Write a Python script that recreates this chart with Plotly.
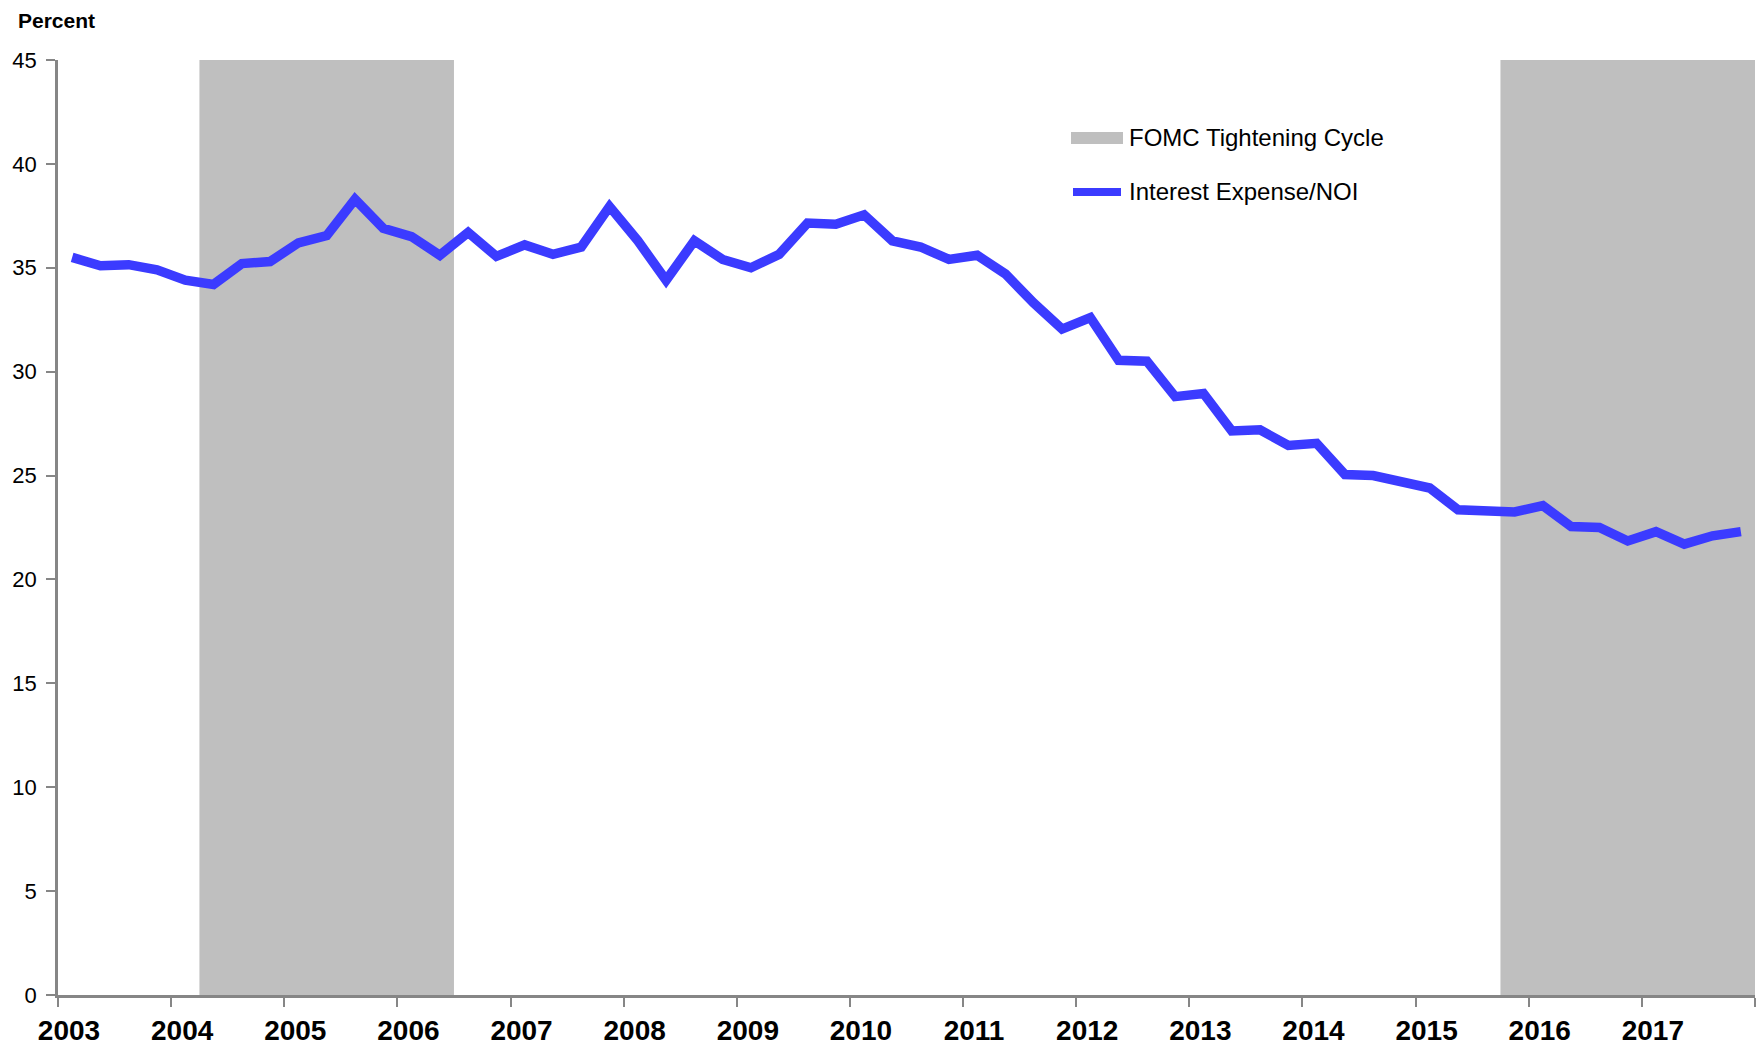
import plotly.graph_objects as go

# ---- data ----
quarters = [f"{y}Q{q}" for y in range(2003, 2018) for q in range(1, 5)]
interest_expense_noi = [
    35.5, 35.1, 35.15, 34.9,
    34.4, 34.2, 35.2, 35.3,
    36.2, 36.55, 38.3, 36.9,
    36.5, 35.6, 36.7, 35.55,
    36.1, 35.65, 36.0, 37.95,
    36.3, 34.4, 36.3, 35.4,
    35.0, 35.65, 37.15, 37.1,
    37.55, 36.3, 36.0, 35.4,
    35.6, 34.7, 33.3, 32.05,
    32.6, 30.55, 30.5, 28.8,
    28.95, 27.15, 27.2, 26.45,
    26.55, 25.05, 25.0, 24.7,
    24.4, 23.35, 23.25, 23.25,
    23.55, 22.55, 22.5, 21.85,
    22.3, 21.7, 22.1, 22.3,
]
tightening_start = [2004.25, 2015.75]
tightening_end = [2006.5, 2018.0]
year_ticks = list(range(2003, 2019))
year_labels = [str(y) for y in range(2003, 2018)] + [""]
y_ticks = list(range(0, 50, 5))

# decimal position at the middle of each quarter
x_pos = [int(q[:4]) + (int(q[-1]) - 0.5) / 4 for q in quarters]

BLUE = "#3b3bff"
GRAY = "#bfbfbf"
AXIS = "#868686"
W, H = 1764, 1044
OFF = 8  # page body margin
L, R, T, B = 50, 17, 52, 57
pw, ph = W - L - R, H - T - B

fig = go.Figure()
fig.add_trace(go.Scatter(
    x=x_pos, y=interest_expense_noi, mode="lines",
    line=dict(color=BLUE, width=9.5), showlegend=False,
    hoverinfo="skip",
))

shapes = []
for s, e in zip(tightening_start, tightening_end):
    shapes.append(dict(type="rect", xref="x", yref="paper", x0=s, x1=e, y0=0, y1=1,
                       fillcolor=GRAY, line=dict(width=0), layer="below"))

# manual legend (page pixel -> paper)
def px(xp):
    return (xp - OFF - L) / pw

def py(yp):
    return 1 - (yp - OFF - T) / ph

shapes.append(dict(type="rect", xref="paper", yref="paper",
                   x0=px(1071), x1=px(1123), y0=py(144), y1=py(132),
                   fillcolor=GRAY, line=dict(width=0)))
shapes.append(dict(type="line", xref="paper", yref="paper",
                   x0=px(1073), x1=px(1121), y0=py(192), y1=py(192),
                   line=dict(color=BLUE, width=8)))

annotations = [
    dict(text="FOMC Tightening Cycle", xref="paper", yref="paper", x=px(1127), y=py(138),
         xanchor="left", yanchor="middle", showarrow=False,
         font=dict(family="Liberation Sans, Arial", size=24, color="#000")),
    dict(text="Interest Expense/NOI", xref="paper", yref="paper", x=px(1127), y=py(192),
         xanchor="left", yanchor="middle", showarrow=False,
         font=dict(family="Liberation Sans, Arial", size=24, color="#000")),
    dict(text="<b>Percent</b>", xref="paper", yref="paper", x=px(16), y=py(20),
         xanchor="left", yanchor="middle", showarrow=False,
         font=dict(family="Liberation Sans, Arial", size=21, color="#000")),
]

fig.update_layout(
    width=W, height=H,
    margin=dict(l=L, r=R, t=T, b=B, pad=0),
    plot_bgcolor="white", paper_bgcolor="white",
    shapes=shapes, annotations=annotations,
    showlegend=False,
    xaxis=dict(
        range=[2003, 2018], tickmode="array", tickvals=year_ticks, ticktext=year_labels,
        showgrid=False, zeroline=False, showline=True, linecolor=AXIS, linewidth=2.5,
        ticks="outside", ticklen=9, tickwidth=2, tickcolor=AXIS, automargin=False,
        ticklabelshift=11, ticklabelstandoff=0,
        tickfont=dict(family="Liberation Sans, Arial", size=28, color="#000", weight="bold"),
    ),
    yaxis=dict(
        range=[0, 45], tickmode="array", tickvals=y_ticks,
        showgrid=False, zeroline=False, showline=True, linecolor=AXIS, linewidth=2.5,
        ticks="outside", ticklen=9, tickwidth=2, tickcolor=AXIS, automargin=False,
        ticklabelstandoff=5,
        tickfont=dict(family="Liberation Sans, Arial", size=22, color="#000"),
    ),
)

fig.write_html("out.html")
